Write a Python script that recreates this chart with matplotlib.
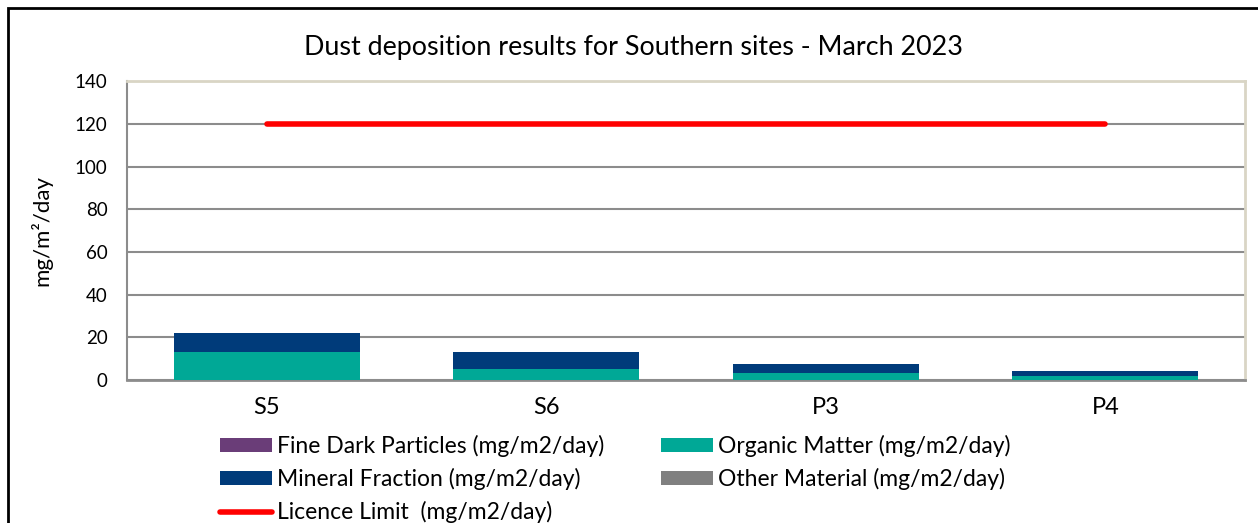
import numpy as np
import matplotlib
matplotlib.use("Agg")
import matplotlib.pyplot as plt
from matplotlib.patches import Rectangle

plt.rcParams['font.family'] = ['Lato', 'DejaVu Sans']

# data
sites = ["S5", "S6", "P3", "P4"]
fine_dark = [0, 0, 0, 0]
organic = [13.3, 5.3, 3.1, 1.7]
mineral = [8.6, 8.0, 4.6, 2.7]
other = [0, 0, 0, 0]
licence_limit = [120, 120, 120, 120]

fig = plt.figure(figsize=(12.58, 5.23), dpi=100)
ax = fig.add_axes([127 / 1258, 1 - 380 / 523, 1118 / 1258, 298.7 / 523])

# outer chart frame (only left and top edges visible in the crop)
fig.patches.append(Rectangle((8 / 1258, -0.1), 1.2, 1 - 8 / 523 + 0.1,
                             transform=fig.transFigure, fill=False,
                             edgecolor="black", linewidth=2))

x = np.arange(len(sites))
w = 0.665
bottom = np.zeros(len(sites))
series = [
    (fine_dark, "#6a3d78", "Fine Dark Particles (mg/m2/day)"),
    (organic, "#00a896", "Organic Matter (mg/m2/day)"),
    (mineral, "#003b7a", "Mineral Fraction (mg/m2/day)"),
    (other, "#808080", "Other Material (mg/m2/day)"),
]
bars = {}
for vals, col, lab in series:
    bars[lab] = ax.bar(x, vals, w, bottom=bottom, color=col, label=lab, zorder=3)
    bottom += np.array(vals)

line, = ax.plot(x, licence_limit, color="red", lw=4, solid_capstyle="round",
                label="Licence Limit  (mg/m2/day)", zorder=4)

ax.set_xlim(-0.5, len(sites) - 0.5)
ax.set_ylim(0, 140)
ax.set_yticks(range(0, 141, 20))
ax.set_xticks(x)
ax.set_xticklabels(sites, fontsize=17)
ax.tick_params(axis="y", labelsize=13.5, length=0, pad=14)
ax.tick_params(axis="x", length=0, pad=12)
ax.yaxis.grid(True, color="#8c8c8c", lw=1.5, zorder=0)
ax.set_axisbelow(True)

ax.spines["left"].set_color("#8c8c8c")
ax.spines["left"].set_linewidth(1.5)
ax.spines["bottom"].set_color("#8c8c8c")
ax.spines["bottom"].set_linewidth(2)
ax.spines["top"].set_color("#d9d5c5")
ax.spines["top"].set_linewidth(2)
ax.spines["right"].set_color("#d9d5c5")
ax.spines["right"].set_linewidth(2)

ax.set_ylabel("mg/m²/day", fontsize=16, labelpad=16)
fig.text(634 / 1258, 1 - 47 / 523, "Dust deposition results for Southern sites - March 2023",
         ha="center", va="center", fontsize=19.4)

handles = [bars[series[0][2]], bars[series[2][2]], line,
           bars[series[1][2]], bars[series[3][2]]]
labels = [series[0][2], series[2][2], line.get_label(), series[1][2], series[3][2]]
fig.legend(handles, labels, ncol=2, loc="upper left",
           bbox_to_anchor=(220 / 1258, 1 - 435 / 523), frameon=False,
           fontsize=16.5, handlelength=2.25, handleheight=0.55,
           handletextpad=0.22, columnspacing=2.5, labelspacing=0.48,
           borderpad=0, borderaxespad=0)

fig.savefig("out.png", dpi=100)
